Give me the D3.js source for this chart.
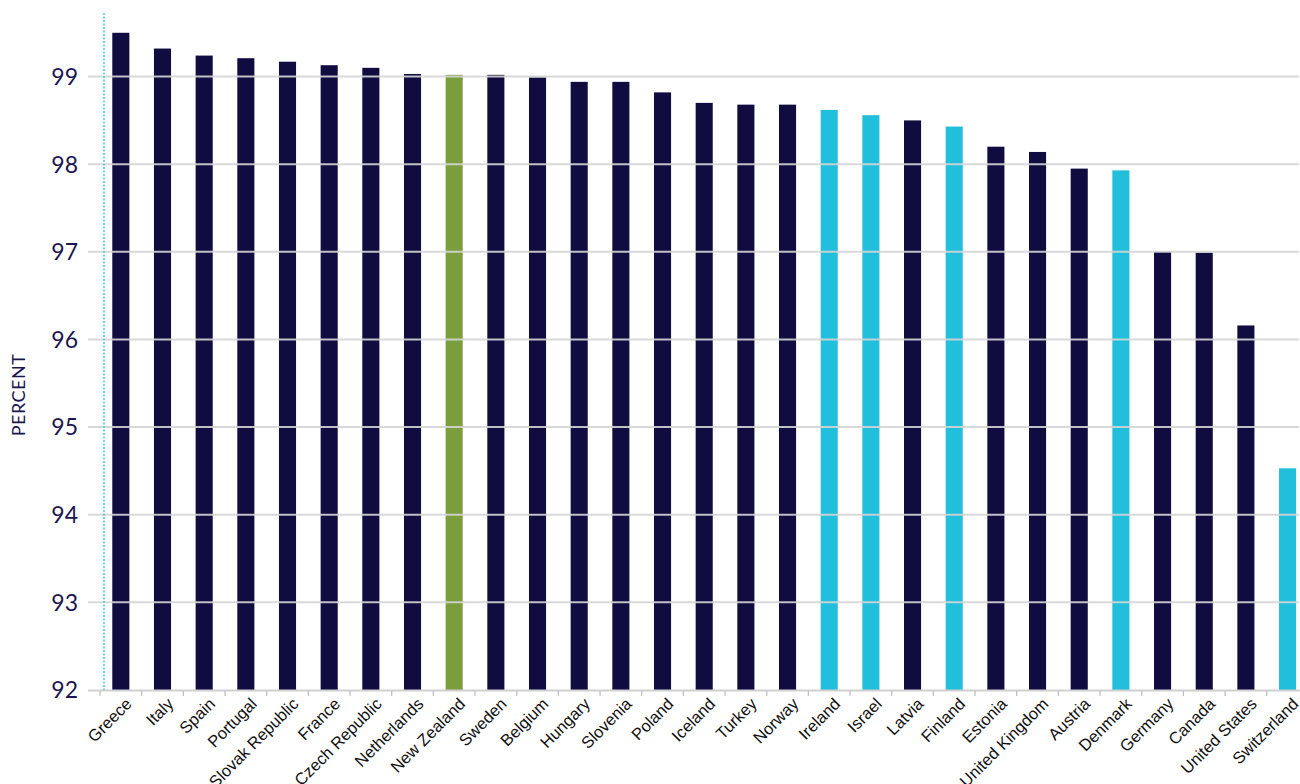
<!DOCTYPE html>
<html>
<head>
<meta charset="utf-8">
<script src="https://cdn.jsdelivr.net/npm/d3@7"></script>
<style>
  html, body { margin: 0; padding: 0; background: #fff; }
  svg { display: block; }
</style>
</head>
<body>
<svg id="chart" width="1300" height="784"></svg>
<script>
const categories = ["Greece","Italy","Spain","Portugal","Slovak Republic","France","Czech Republic","Netherlands","New Zealand","Sweden","Belgium","Hungary","Slovenia","Poland","Iceland","Turkey","Norway","Ireland","Israel","Latvia","Finland","Estonia","United Kingdom","Austria","Denmark","Germany","Canada","United States","Switzerland"];
const values = [99.50,99.32,99.24,99.21,99.17,99.13,99.10,99.03,99.02,99.02,98.99,98.94,98.94,98.82,98.70,98.68,98.68,98.62,98.56,98.50,98.43,98.20,98.14,97.95,97.93,97.00,96.99,96.16,94.53];
const groups = ["base","base","base","base","base","base","base","base","nz","base","base","base","base","base","base","base","base","highlight","highlight","base","highlight","base","base","base","highlight","base","base","base","highlight"];
const yTicks = [92,93,94,95,96,97,98,99];
const yTitle = "PERCENT";

const colors = { base: "#110c40", nz: "#7a9e3c", highlight: "#22bfdd" };

const svg = d3.select("#chart");

const x = d3.scaleBand().domain(categories).range([100, 1308.4]).paddingInner(0.59).paddingOuter(0.295);
const y = d3.scaleLinear().domain([92, 99]).range([690, 76.6]);

// bars
svg.append("g").selectAll("rect").data(categories).join("rect")
  .attr("x", d => x(d))
  .attr("width", x.bandwidth())
  .attr("y", (d, i) => y(values[i]))
  .attr("height", (d, i) => y(92) - y(values[i]))
  .attr("fill", (d, i) => colors[groups[i]]);

// gridlines (over bars)
svg.append("g").selectAll("line").data(yTicks.slice(1)).join("line")
  .attr("x1", 88).attr("x2", 1299)
  .attr("y1", d => y(d)).attr("y2", d => y(d))
  .attr("stroke", "#d4d4d4").attr("stroke-width", 2).attr("stroke-opacity", 0.9);

// bottom axis line
svg.append("line")
  .attr("x1", 88).attr("x2", 1300)
  .attr("y1", y(92) + 0.5).attr("y2", y(92) + 0.5)
  .attr("stroke", "#d0d0d0").attr("stroke-width", 2);

// x ticks at band boundaries
svg.append("g").selectAll("line").data(categories).join("line")
  .attr("x1", d => x(d) - x.step() * 0.295)
  .attr("x2", d => x(d) - x.step() * 0.295)
  .attr("y1", 691).attr("y2", 696)
  .attr("stroke", "#bdbdbd").attr("stroke-width", 1.2);

// dotted vertical line
svg.append("line")
  .attr("x1", 104).attr("x2", 104)
  .attr("y1", 13).attr("y2", 690)
  .attr("stroke", "#3fc8e4").attr("stroke-width", 1.5)
  .attr("stroke-dasharray", "2,1.5");

// y labels
svg.append("g").selectAll("text").data(yTicks).join("text")
  .attr("x", 78)
  .attr("y", d => y(d))
  .attr("dy", "0.36em")
  .attr("text-anchor", "end")
  .attr("font-family", "Lato, 'Open Sans', sans-serif")
  .attr("font-size", 23)
  .attr("fill", "#1b1650")
  .text(d => d);

// y title
svg.append("text")
  .attr("transform", "translate(25,395) rotate(-90)")
  .attr("text-anchor", "middle")
  .attr("font-family", "Lato, 'Open Sans', sans-serif")
  .attr("font-size", 18)
  .attr("letter-spacing", 0.5)
  .attr("fill", "#1b1650")
  .text(yTitle);

// x labels
svg.append("g").selectAll("text").data(categories).join("text")
  .attr("transform", d => `translate(${x(d) + x.bandwidth() / 2 + 12},705) rotate(-45)`)
  .attr("text-anchor", "end")
  .attr("font-family", "'Liberation Sans', Arial, sans-serif")
  .attr("font-size", 16.5)
  .attr("fill", "#111")
  .text(d => d);
</script>
</body>
</html>
